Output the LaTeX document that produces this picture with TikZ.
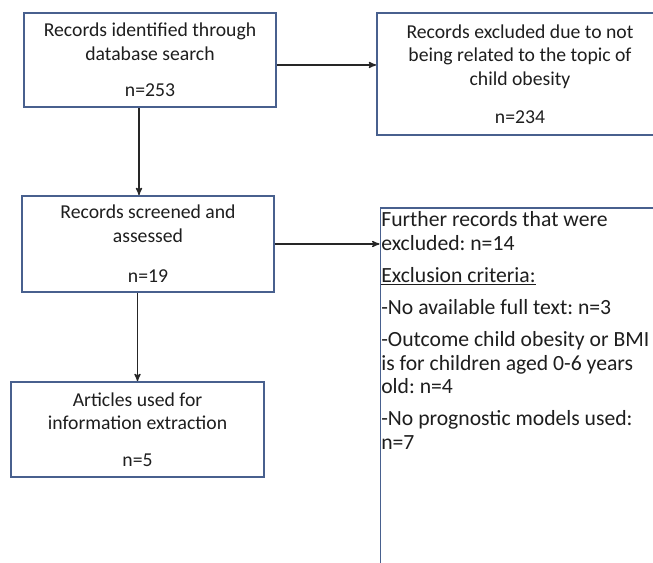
\documentclass[tikz,border=0pt]{standalone}
\usepackage{fontspec}
\setmainfont{Carlito}
\usepackage{tikz}
\usetikzlibrary{arrows,positioning,calc}
\definecolor{boxline}{RGB}{72,96,142}
\definecolor{txt}{RGB}{30,30,30}
\frenchspacing

\begin{document}
\begin{tikzpicture}[->,>=stealth',x=0.025cm,y=-0.025cm,semithick,
   box/.style={draw=boxline, line width=1.2pt, fill=white, align=center, text=txt,
      font=\fontsize{14}{16.8}\selectfont, inner sep=0pt},
   link/.style={draw=black!85, line width=0.9pt}]
  \useasboundingbox (0,0) rectangle (653,563);
  \node[box, minimum width=6.3cm, minimum height=2.35cm] (rid) at (150, 60)
     {Records identified through\\ database search\\[9pt] n=253};
  \node[box, minimum width=7.15cm, minimum height=3.05cm] (rex) at (520, 74)
     {Records excluded due to not\\ being related to the topic of\\ child obesity\\[10pt] n=234};
  \node[box, minimum width=6.3cm, minimum height=2.4cm] (rsc) at (148, 244)
     {Records screened and\\ assessed\\[12pt] n=19};
  \node[box, minimum width=7cm, minimum height=9cm, anchor=north west] (fex) at (379.5, 207)
     {};
  \node[anchor=north west, align=left, text=txt, inner xsep=1pt, inner ysep=3pt,
      font=\fontsize{15.4}{16.8}\selectfont] (fextxt) at (fex.north west)
     {Further records that were\\ excluded: n=14\\[6pt] \underline{Exclusion criteria:}\\[6pt]
      -No available full text: n=3\\[6pt] -Outcome child obesity or BMI\\ is for children aged 0-6 years\\ old: n=4\\[6pt]
      -No prognostic models used:\\ n=7};
  \node[box, minimum width=6.325cm, minimum height=2.375cm] (art) at (137.5, 429.5)
     {Articles used for\\ information extraction\\[9pt] n=5};
  % arrows
  \draw[link] ([yshift=-0.125cm]rid.east) -- ([yshift=-0.125cm]rid.east -| rex.west);
  \draw[link] ([xshift=-0.275cm]rid.south) -- ([xshift=-0.275cm]rid.south |- rsc.north);
  \draw[link] (rsc.east) -- (rsc.east -| fex.west);
  \draw[link] (rsc.south -| art.north) -- (art.north);
\end{tikzpicture}
\end{document}
